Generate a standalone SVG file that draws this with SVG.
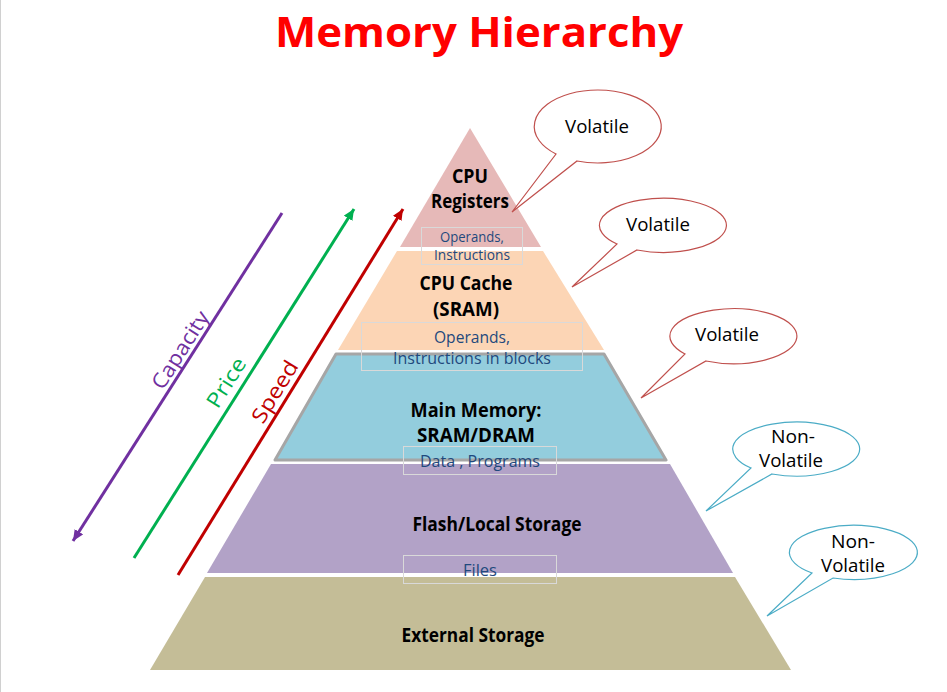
<svg xmlns="http://www.w3.org/2000/svg" width="947" height="692" viewBox="0 0 947 692">
<style>
.t{font-family:"Open Sans","Noto Sans","Liberation Sans",sans-serif;text-anchor:middle}
.lb{font-size:19px;font-weight:bold;fill:#000}
.bx{font-size:16px;fill:#1f497d}
.bxs{font-size:14px;fill:#1f497d}
.box{fill:none;stroke:#d9d9d9;stroke-width:1}
.cv{fill:#fff;stroke:#c0504d;stroke-width:1.2}
.cn{fill:#fff;stroke:#4bacc6;stroke-width:1.2}
.ct{font-size:19px;fill:#000}
.ar{fill:none;stroke-width:3}
.al{font-size:21px}
</style>
<defs>
<marker id="mp" markerUnits="userSpaceOnUse" markerWidth="12" markerHeight="10" refX="11" refY="5" orient="auto"><path d="M0,0 L11,5 L0,10 z" fill="#7030a0"/></marker>
<marker id="mg" markerUnits="userSpaceOnUse" markerWidth="12" markerHeight="10" refX="11" refY="5" orient="auto"><path d="M0,0 L11,5 L0,10 z" fill="#00b050"/></marker>
<marker id="mr" markerUnits="userSpaceOnUse" markerWidth="12" markerHeight="10" refX="11" refY="5" orient="auto"><path d="M0,0 L11,5 L0,10 z" fill="#c00000"/></marker>
</defs>
<rect x="0" y="0" width="947" height="692" fill="#fff"/>
<line x1="0.5" y1="0" x2="0.5" y2="692" stroke="#d0d0d0" stroke-width="1"/>
<text class="t" x="479" y="47" font-size="42" font-weight="bold" fill="#ff0000" textLength="408" lengthAdjust="spacingAndGlyphs">Memory Hierarchy</text>

<g id="external-storage">
<polygon points="205,577 735,577 791,670 150,670" fill="#c4bd97"/>
<text class="t lb" x="473" y="642" textLength="143" lengthAdjust="spacingAndGlyphs">External Storage</text>
</g>
<g id="flash-storage">
<polygon points="271,464 670,464 733,573 207,573" fill="#b2a2c7"/>
<text class="t lb" x="497" y="531" textLength="169" lengthAdjust="spacingAndGlyphs">Flash/Local Storage</text>
<rect class="box" x="403.5" y="555.5" width="153" height="28"/>
<text class="t bx" x="480" y="576" textLength="34" lengthAdjust="spacingAndGlyphs">Files</text>
</g>
<g id="main-memory">
<polygon points="336,354 604,354 666,460 275,460" fill="#93cddd" stroke="#a6a6a6" stroke-width="3" stroke-linejoin="round"/>
<text class="t lb" x="476" y="417" textLength="131" lengthAdjust="spacingAndGlyphs">Main Memory:</text>
<text class="t lb" x="476" y="442" textLength="118" lengthAdjust="spacingAndGlyphs">SRAM/DRAM</text>
<rect class="box" x="403.5" y="446.5" width="153" height="28"/>
<text class="t bx" x="480" y="467" textLength="120" lengthAdjust="spacingAndGlyphs">Data , Programs</text>
</g>
<g id="cpu-cache">
<polygon points="397,251 543,251 604,350 338,350" fill="#fcd5b5"/>
<text class="t lb" x="466" y="290" textLength="93" lengthAdjust="spacingAndGlyphs">CPU Cache</text>
<text class="t lb" x="466" y="316" textLength="66" lengthAdjust="spacingAndGlyphs">(SRAM)</text>
<rect class="box" x="361.5" y="322.5" width="221" height="48"/>
<text class="t bx" x="472" y="343" textLength="76" lengthAdjust="spacingAndGlyphs">Operands,</text>
<text class="t bx" x="472" y="364" textLength="158" lengthAdjust="spacingAndGlyphs">Instructions in blocks</text>
</g>
<g id="cpu-registers">
<polygon points="470,128 541,247 400,247" fill="#e6b9b8"/>
<text class="t lb" x="470" y="183" textLength="36" lengthAdjust="spacingAndGlyphs">CPU</text>
<text class="t lb" x="470" y="208" textLength="78" lengthAdjust="spacingAndGlyphs">Registers</text>
<rect class="box" x="421.5" y="227.5" width="101" height="37"/>
<text class="t bxs" x="472" y="242" textLength="64" lengthAdjust="spacingAndGlyphs">Operands,</text>
<text class="t bxs" x="472" y="260" textLength="76" lengthAdjust="spacingAndGlyphs">Instructions</text>
</g>

<g id="callout-registers">
<path class="cv" d="M577,161 A63.5,36.5 0 1 0 556,154 L512,212 Z"/>
<text class="t ct" x="597" y="133" textLength="64" lengthAdjust="spacingAndGlyphs">Volatile</text>
</g>
<g id="callout-cache">
<path class="cv" d="M637,250 A63.5,27 0 1 0 617,244 L572,287 Z"/>
<text class="t ct" x="658" y="231" textLength="64" lengthAdjust="spacingAndGlyphs">Volatile</text>
</g>
<g id="callout-main">
<path class="cv" d="M706,361 A63.5,27.5 0 1 0 685,354 L641,398 Z"/>
<text class="t ct" x="727" y="341" textLength="64" lengthAdjust="spacingAndGlyphs">Volatile</text>
</g>
<g id="callout-flash">
<path class="cn" d="M772,474 A63.5,27 0 1 0 751,468 L706,511 Z"/>
<text class="t ct" x="793" y="443" textLength="44" lengthAdjust="spacingAndGlyphs">Non-</text>
<text class="t ct" x="791" y="467" textLength="64" lengthAdjust="spacingAndGlyphs">Volatile</text>
</g>
<g id="callout-external">
<path class="cn" d="M833,578 A64,27 0 1 0 812,573 L767,616 Z"/>
<text class="t ct" x="853" y="548" textLength="44" lengthAdjust="spacingAndGlyphs">Non-</text>
<text class="t ct" x="853" y="572" textLength="64" lengthAdjust="spacingAndGlyphs">Volatile</text>
</g>

<g id="connectors">
<line class="ar" x1="282" y1="213" x2="73" y2="541" stroke="#7030a0" marker-end="url(#mp)"/>
<line class="ar" x1="134" y1="558" x2="354" y2="209" stroke="#00b050" marker-end="url(#mg)"/>
<line class="ar" x1="178" y1="575" x2="403" y2="209" stroke="#c00000" marker-end="url(#mr)"/>
<text class="t al" fill="#7030a0" transform="translate(186.5,354) rotate(-57.5)" textLength="88" lengthAdjust="spacingAndGlyphs">Capacity</text>
<text class="t al" fill="#00b050" transform="translate(232.5,386.5) rotate(-57.8)" textLength="55" lengthAdjust="spacingAndGlyphs">Price</text>
<text class="t al" fill="#c00000" transform="translate(281,395.5) rotate(-58.4)" textLength="69" lengthAdjust="spacingAndGlyphs">Speed</text>
</g>
</svg>
